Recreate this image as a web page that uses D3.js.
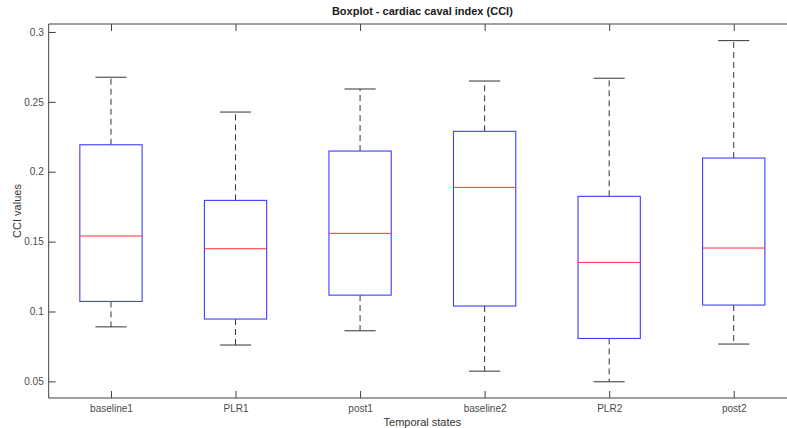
<!DOCTYPE html>
<html>
<head>
<meta charset="utf-8">
<script src="https://cdn.jsdelivr.net/npm/d3@7"></script>
<style>
  body { margin: 0; background: #fff; }
  svg { display: block; font-family: "Liberation Sans", Arial, sans-serif; }
</style>
</head>
<body>
<svg id="chart" width="787" height="428"></svg>
<script>
// Temporal states and their box statistics (CCI values)
const categories   = ["baseline1", "PLR1", "post1", "baseline2", "PLR2", "post2"];
const lowerWhisker = [0.0890, 0.0760, 0.0862, 0.0573, 0.0497, 0.0767];
const q1           = [0.1072, 0.0946, 0.1117, 0.1039, 0.0807, 0.1046];
const median       = [0.1540, 0.1449, 0.1559, 0.1888, 0.1351, 0.1454];
const q3           = [0.2193, 0.1795, 0.2148, 0.2289, 0.1824, 0.2098];
const upperWhisker = [0.2676, 0.2427, 0.2592, 0.2649, 0.2669, 0.2938];
const yTicks       = [0.05, 0.1, 0.15, 0.2, 0.25, 0.3];

const svg = d3.select("#chart");
const W = 787, H = 428;
const plot = { left: 48.7, right: 796, top: 24, bottom: 398 };
const axisColor = "#404040";

const x = d3.scaleLinear().domain([0.5, categories.length + 0.5]).range([plot.left, plot.right]);
const y = d3.scaleLinear().domain([0.0381, 0.3057]).range([plot.bottom, plot.top]);

const data = categories.map((c, i) => ({
  name: c, pos: i + 1,
  lo: lowerWhisker[i], q1: q1[i], med: median[i], q3: q3[i], hi: upperWhisker[i]
}));

const boxHalf = 0.25, capHalf = 0.125;

// Axes frame lines
const frame = svg.append("g").attr("stroke", axisColor).attr("stroke-width", 1).attr("fill", "none");
frame.append("line").attr("x1", plot.left).attr("x2", W).attr("y1", plot.bottom).attr("y2", plot.bottom);
frame.append("line").attr("x1", plot.left).attr("x2", W).attr("y1", plot.top).attr("y2", plot.top);
frame.append("line").attr("x1", plot.left).attr("x2", plot.left).attr("y1", plot.top).attr("y2", plot.bottom);

// Bottom axis
const xAxis = d3.axisBottom(x).tickValues(data.map(d => d.pos))
  .tickFormat((d, i) => categories[i]).tickSizeInner(-7).tickSizeOuter(0).tickPadding(7);
const gx = svg.append("g").attr("transform", `translate(0,${plot.bottom})`).call(xAxis);
gx.select(".domain").remove();
gx.selectAll("line").attr("stroke", axisColor);
gx.selectAll("text").attr("fill", "#4a4a4a").attr("font-size", 10);

// Top ticks
const gxt = svg.append("g").attr("transform", `translate(0,${plot.top})`)
  .call(d3.axisTop(x).tickValues(data.map(d => d.pos)).tickFormat("").tickSizeInner(-7).tickSizeOuter(0));
gxt.select(".domain").remove();
gxt.selectAll("line").attr("stroke", axisColor);

// Left axis
const yAxis = d3.axisLeft(y).tickValues(yTicks).tickFormat(d => String(+d.toFixed(2)))
  .tickSizeInner(-7).tickSizeOuter(0).tickPadding(5);
const gy = svg.append("g").attr("transform", `translate(${plot.left},0)`).call(yAxis);
gy.select(".domain").remove();
gy.selectAll("line").attr("stroke", axisColor);
gy.selectAll("text").attr("fill", "#4a4a4a").attr("font-size", 10);

// Boxes
const g = svg.append("g");
const box = g.selectAll("g.box").data(data).join("g").attr("class", "box");

// dashed whiskers
box.append("line")
  .attr("x1", d => x(d.pos)).attr("x2", d => x(d.pos))
  .attr("y1", d => y(d.q3)).attr("y2", d => y(d.hi))
  .attr("stroke", "#333").attr("stroke-dasharray", "6,4");
box.append("line")
  .attr("x1", d => x(d.pos)).attr("x2", d => x(d.pos))
  .attr("y1", d => y(d.q1)).attr("y2", d => y(d.lo))
  .attr("stroke", "#333").attr("stroke-dasharray", "6,4");

// whisker caps
["hi", "lo"].forEach(k => {
  box.append("line")
    .attr("x1", d => x(d.pos - capHalf)).attr("x2", d => x(d.pos + capHalf))
    .attr("y1", d => y(d[k])).attr("y2", d => y(d[k]))
    .attr("stroke", "#333");
});

// box outline
box.append("rect")
  .attr("x", d => x(d.pos - boxHalf)).attr("width", d => x(d.pos + boxHalf) - x(d.pos - boxHalf))
  .attr("y", d => y(d.q3)).attr("height", d => y(d.q1) - y(d.q3))
  .attr("fill", "none").attr("stroke", "#3c3cff").attr("stroke-width", 1.1);

// median
box.append("line")
  .attr("x1", d => x(d.pos - boxHalf)).attr("x2", d => x(d.pos + boxHalf))
  .attr("y1", d => y(d.med)).attr("y2", d => y(d.med))
  .attr("stroke", "#ff3030").attr("stroke-width", 1);

// Title and axis labels
const cx = (plot.left + plot.right) / 2;
svg.append("text").attr("x", cx).attr("y", 15).attr("text-anchor", "middle")
  .attr("font-size", 11).attr("font-weight", "bold").attr("fill", "#1a1a1a")
  .text("Boxplot - cardiac caval index (CCI)");
svg.append("text").attr("x", cx).attr("y", 426).attr("text-anchor", "middle")
  .attr("font-size", 11).attr("fill", "#333")
  .text("Temporal states");
svg.append("text")
  .attr("transform", `translate(21,${(plot.top + plot.bottom) / 2}) rotate(-90)`)
  .attr("text-anchor", "middle").attr("font-size", 11).attr("fill", "#333")
  .text("CCI values");
</script>
</body>
</html>
